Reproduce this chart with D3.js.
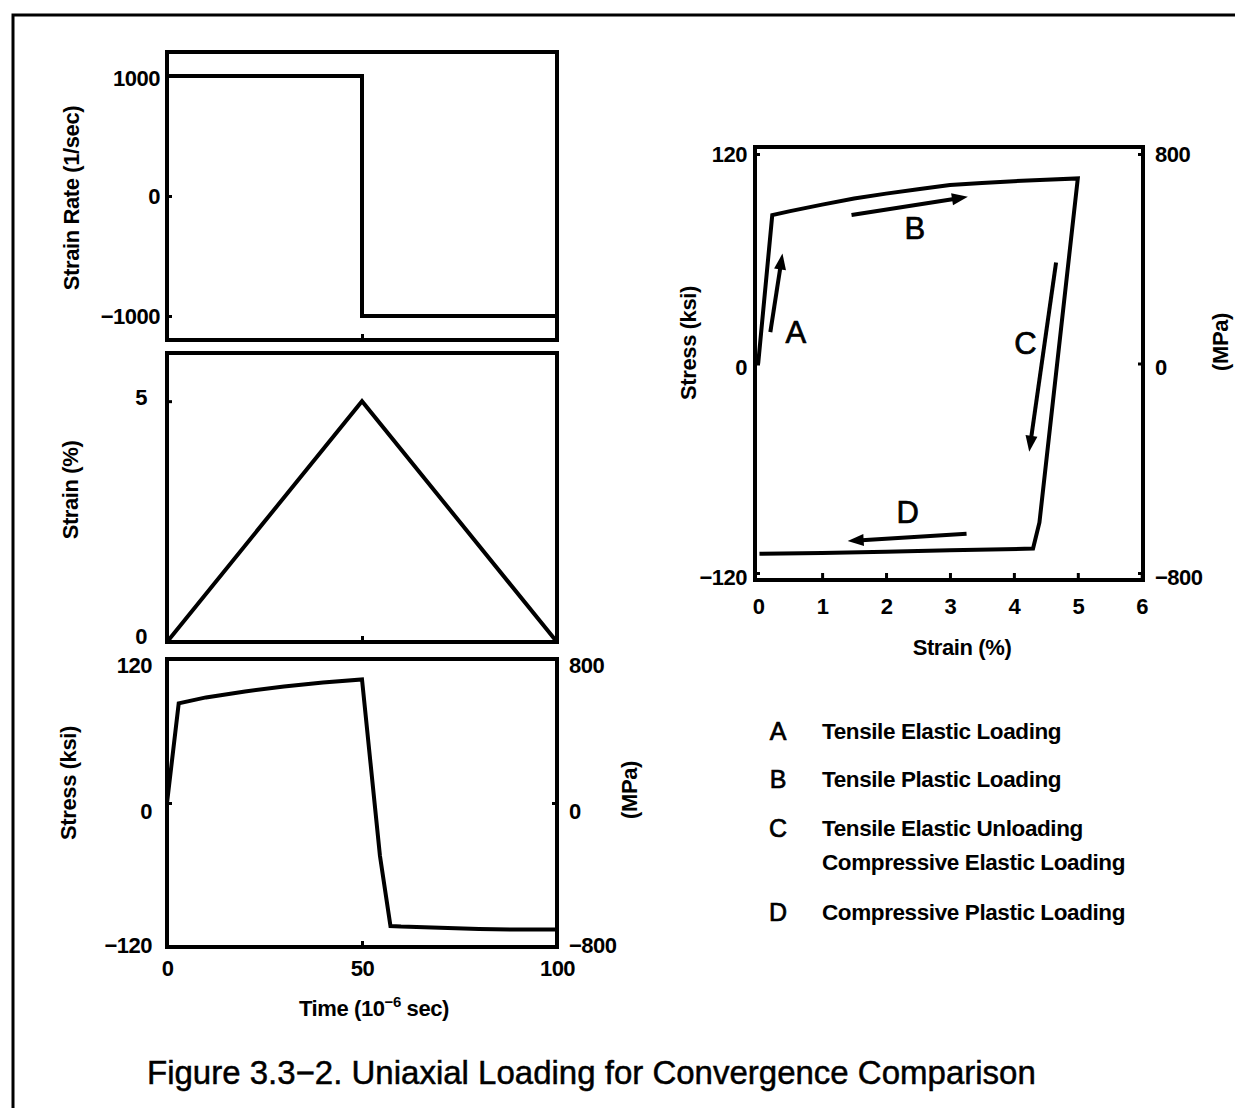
<!DOCTYPE html>
<html>
<head>
<meta charset="utf-8">
<script src="https://cdn.jsdelivr.net/npm/d3@7"></script>
<style>
  html, body { margin: 0; padding: 0; background: #fff; }
  svg { display: block; }
  text { font-family: "Liberation Sans", Arial, Helvetica, sans-serif; fill: #000; }
</style>
</head>
<body>
<div id="chart"></div>
<script>
// ---------------- DATA ----------------
// Panel 1: strain rate vs time
const rateTime   = [0, 50, 50, 100];
const rateValues = [1000, 1000, -1000, -1000];
const rateTicks  = [1000, 0, -1000];

// Panel 2: strain vs time
const strainTime   = [0, 50, 100];
const strainValues = [0, 5, 0];
const strainTicks  = [5, 0];

// Panel 3: stress vs time
const stressTime   = [0, 3, 10, 20, 30, 40, 50, 54.6, 57.3, 60, 70, 80, 90, 100];
const stressValues = [0, 83, 88, 93, 97, 100.5, 103, -44, -102.5, -103, -104, -105, -105.5, -105.5];
const stressTicksKsi = [120, 0, -120];
const stressTicksMPa = [800, 0, -800];
const timeTicks = [0, 50, 100];

// Right panel: stress vs strain hysteresis loop
const loopStrain = [0, 0.22, 0.5, 1.0, 1.5, 2.0, 2.5, 3.0, 3.5, 4.0, 4.5, 5.0, 4.4, 4.3, 3.0, 2.0, 1.0, 0.02];
const loopStress = [0, 85, 87.3, 91, 94.5, 97.3, 99.8, 102.2, 103.4, 104.4, 105.3, 106, -91, -106, -107, -107.8, -108.5, -109];
const loopStrainTicks = [0, 1, 2, 3, 4, 5, 6];

// Arrows on loop (strain, stress)
const arrowNames = ["A", "B", "C", "D"];
const arrowStart = [[0.19, 18], [1.46, 85], [4.66, 57.8], [3.26, -97.5]];
const arrowEnd   = [[0.38, 63], [3.28, 95.5], [4.24, -50.5], [1.40, -101.7]];
const arrowLabelPos = [[0.59, 18], [2.45, 77.6], [4.18, 11.7], [2.34, -85.6]];

// Legend
const legendLetters = ["A", "B", "C", "D"];
const legendLines = [["Tensile Elastic Loading"], ["Tensile Plastic Loading"],
                     ["Tensile Elastic Unloading", "Compressive Elastic Loading"],
                     ["Compressive Plastic Loading"]];

const captionText = "Figure 3.3\u22122. Uniaxial Loading for Convergence Comparison";

// ---------------- LAYOUT ----------------
const W = 1235, H = 1108;
const svg = d3.select("#chart").append("svg").attr("width", W).attr("height", H);
svg.append("rect").attr("width", W).attr("height", H).attr("fill", "#fff");

// outer frame (cropped at right/bottom)
svg.append("rect").attr("x", 13).attr("y", 15).attr("width", 1300).attr("height", 1200)
  .attr("fill", "none").attr("stroke", "#000").attr("stroke-width", 3);

const BOX_W = 4, LINE_W = 4, TICK_W = 3;
const tickFont = 22;
const titleFont = 22;

function box(x0, x1, y0, y1) {
  svg.append("rect").attr("x", x0).attr("y", y0).attr("width", x1 - x0).attr("height", y1 - y0)
    .attr("fill", "none").attr("stroke", "#000").attr("stroke-width", BOX_W);
}
function styleAxis(g) {
  g.select(".domain").remove();
  g.selectAll(".tick line").attr("stroke", "#000").attr("stroke-width", TICK_W);
  g.selectAll(".tick text").attr("font-size", tickFont).attr("font-weight", "bold")
    .attr("font-family", "'Liberation Sans', Arial, sans-serif").attr("fill", "#000")
    .attr("letter-spacing", -0.5);
}
function shiftLabel(g, value, dy) {
  g.selectAll(".tick").filter(d => d === value).select("text")
    .attr("transform", `translate(0,${dy})`);
}
function yTitle(txt, x, y) {
  svg.append("text").attr("transform", `translate(${x},${y}) rotate(-90)`)
    .attr("text-anchor", "middle").attr("dominant-baseline", "middle")
    .attr("font-size", titleFont).attr("font-weight", "bold").attr("letter-spacing", -0.4).text(txt);
}
const fmt = d3.format("d");

const xL = 167, xR = 557;
const xTime = d3.scaleLinear().domain([0, 100]).range([xL, xR]);

// ---- Panel 1 ----
const y1 = d3.scaleLinear().domain([-1200, 1200]).range([340, 52]);
box(xL, xR, 52, 340);
svg.append("g").attr("transform", `translate(${xL},0)`)
  .call(d3.axisLeft(y1).tickValues(rateTicks).tickFormat(fmt).tickSize(-5).tickSizeOuter(0).tickPadding(7))
  .call(styleAxis)
  .call(g => shiftLabel(g, 1000, 2));
svg.append("g").attr("transform", `translate(0,340)`)
  .call(d3.axisBottom(xTime).tickValues([50]).tickFormat("").tickSize(-6).tickSizeOuter(0))
  .call(styleAxis);
svg.append("path").datum(rateTime.map((t, i) => [t, rateValues[i]]))
  .attr("fill", "none").attr("stroke", "#000").attr("stroke-width", LINE_W)
  .attr("stroke-linejoin", "miter")
  .attr("d", d3.line().x(d => xTime(d[0])).y(d => y1(d[1])));
yTitle("Strain Rate (1/sec)", 73, 198);

// ---- Panel 2 ----
const y2 = d3.scaleLinear().domain([0, 6]).range([642, 353]);
box(xL, xR, 353, 642);
svg.append("g").attr("transform", `translate(${xL},0)`)
  .call(d3.axisLeft(y2).tickValues(strainTicks).tickFormat(fmt).tickSize(-5).tickSizeOuter(0).tickPadding(20))
  .call(styleAxis)
  .call(g => shiftLabel(g, 0, -6))
  .call(g => shiftLabel(g, 5, -4));
svg.append("g").attr("transform", `translate(0,642)`)
  .call(d3.axisBottom(xTime).tickValues([50]).tickFormat("").tickSize(-6).tickSizeOuter(0))
  .call(styleAxis);
svg.append("path").datum(strainTime.map((t, i) => [t, strainValues[i]]))
  .attr("fill", "none").attr("stroke", "#000").attr("stroke-width", LINE_W)
  .attr("d", d3.line().x(d => xTime(d[0])).y(d => y2(d[1])));
yTitle("Strain (%)", 72, 490);

// ---- Panel 3 ----
const y3 = d3.scaleLinear().domain([-120, 120]).range([947, 659]);
const y3r = d3.scaleLinear().domain([-800, 800]).range([947, 659]);
box(xL, xR, 659, 947);
svg.append("g").attr("transform", `translate(${xL},0)`)
  .call(d3.axisLeft(y3).tickValues(stressTicksKsi).tickFormat(fmt).tickSize(-5).tickSizeOuter(0).tickPadding(15))
  .call(styleAxis)
  .call(g => shiftLabel(g, 120, 6))
  .call(g => shiftLabel(g, 0, 8))
  .call(g => shiftLabel(g, -120, -2));
svg.append("g").attr("transform", `translate(${xR},0)`)
  .call(d3.axisRight(y3r).tickValues(stressTicksMPa).tickFormat(fmt).tickSize(-5).tickSizeOuter(0).tickPadding(12))
  .call(styleAxis)
  .call(g => shiftLabel(g, 800, 6))
  .call(g => shiftLabel(g, 0, 8))
  .call(g => shiftLabel(g, -800, -2));
svg.append("g").attr("transform", `translate(0,947)`)
  .call(d3.axisBottom(xTime).tickValues(timeTicks).tickFormat(fmt).tickSize(-6).tickSizeOuter(0).tickPadding(13))
  .call(styleAxis);
svg.append("path").datum(stressTime.map((t, i) => [t, stressValues[i]]))
  .attr("fill", "none").attr("stroke", "#000").attr("stroke-width", LINE_W)
  .attr("d", d3.line().x(d => xTime(d[0])).y(d => y3(d[1])));
yTitle("Stress (ksi)", 70, 783);
yTitle("(MPa)", 631, 790);
{
  const t = svg.append("text").attr("x", 374).attr("y", 1016).attr("text-anchor", "middle")
    .attr("font-size", titleFont).attr("font-weight", "bold").attr("letter-spacing", -0.4);
  t.append("tspan").text("Time (10");
  t.append("tspan").attr("dy", -9).attr("font-size", 15).text("\u22126");
  t.append("tspan").attr("dy", 9).text(" sec)");
}

// ---- Right panel ----
const rxL = 755, rxR = 1143, ryT = 147, ryB = 580;
const xs = d3.scaleLinear().domain([-0.05, 6.02]).range([rxL, rxR]);
const ys = d3.scaleLinear().domain([-124, 124]).range([ryB, ryT]);
const ysr = d3.scaleLinear().domain([-124 * 800 / 120, 124 * 800 / 120]).range([ryB, ryT]);
box(rxL, rxR, ryT, ryB);
svg.append("g").attr("transform", `translate(${rxL},0)`)
  .call(d3.axisLeft(ys).tickValues(stressTicksKsi).tickFormat(fmt).tickSize(-5).tickSizeOuter(0).tickPadding(8))
  .call(styleAxis)
  .call(g => shiftLabel(g, 0, 4))
  .call(g => shiftLabel(g, -120, 4));
svg.append("g").attr("transform", `translate(${rxR},0)`)
  .call(d3.axisRight(ysr).tickValues(stressTicksMPa).tickFormat(fmt).tickSize(-5).tickSizeOuter(0).tickPadding(12))
  .call(styleAxis)
  .call(g => shiftLabel(g, 0, 4))
  .call(g => shiftLabel(g, -800, 4));
svg.append("g").attr("transform", `translate(0,${ryB})`)
  .call(d3.axisBottom(xs).tickValues(loopStrainTicks).tickFormat(fmt).tickSize(-7).tickSizeOuter(0).tickPadding(18))
  .call(styleAxis)
  .call(g => g.selectAll(".tick").filter(d => d === 0).select("line").remove());
svg.append("path").datum(loopStrain.map((s, i) => [s, loopStress[i]]))
  .attr("fill", "none").attr("stroke", "#000").attr("stroke-width", LINE_W)
  .attr("stroke-linejoin", "miter")
  .attr("d", d3.line().x(d => xs(d[0])).y(d => ys(d[1])));
yTitle("Stress (ksi)", 690, 343);
yTitle("(MPa)", 1222, 342);
svg.append("text").attr("x", 962).attr("y", 655).attr("text-anchor", "middle")
  .attr("font-size", titleFont).attr("font-weight", "bold").attr("letter-spacing", -0.4).text("Strain (%)");

// arrows
arrowNames.forEach((n, i) => {
  const x0 = xs(arrowStart[i][0]), y0 = ys(arrowStart[i][1]);
  const x1 = xs(arrowEnd[i][0]), y1p = ys(arrowEnd[i][1]);
  const dx = x1 - x0, dy = y1p - y0, L = Math.hypot(dx, dy);
  const ux = dx / L, uy = dy / L, headL = 16, headW = 6;
  const bx = x1 - ux * headL, by = y1p - uy * headL;
  svg.append("line").attr("x1", x0).attr("y1", y0).attr("x2", bx + ux * 2).attr("y2", by + uy * 2)
    .attr("stroke", "#000").attr("stroke-width", 4);
  svg.append("path")
    .attr("d", `M${x1},${y1p} L${bx - uy * headW},${by + ux * headW} L${bx + uy * headW},${by - ux * headW} Z`)
    .attr("fill", "#000");
  svg.append("text").attr("x", xs(arrowLabelPos[i][0])).attr("y", ys(arrowLabelPos[i][1]))
    .attr("text-anchor", "middle").attr("dominant-baseline", "central")
    .attr("font-size", 31).attr("stroke", "#000").attr("stroke-width", 0.7).text(n);
});

// legend
const legRowY = [731, 779, 828, 912];
legendLetters.forEach((l, i) => {
  svg.append("text").attr("x", 778).attr("y", legRowY[i]).attr("text-anchor", "middle")
    .attr("dominant-baseline", "central").attr("font-size", 25)
    .attr("stroke", "#000").attr("stroke-width", 0.7).text(l);
  legendLines[i].forEach((s, j) => {
    svg.append("text").attr("x", 822).attr("y", legRowY[i] + j * 34)
      .attr("dominant-baseline", "central").attr("font-size", 22.5).attr("font-weight", "bold")
      .attr("letter-spacing", -0.4).text(s);
  });
});

// caption
svg.append("text").attr("x", 147).attr("y", 1084).attr("font-size", 33)
  .attr("stroke", "#000").attr("stroke-width", 0.5)
  .text(captionText);
</script>
</body>
</html>
